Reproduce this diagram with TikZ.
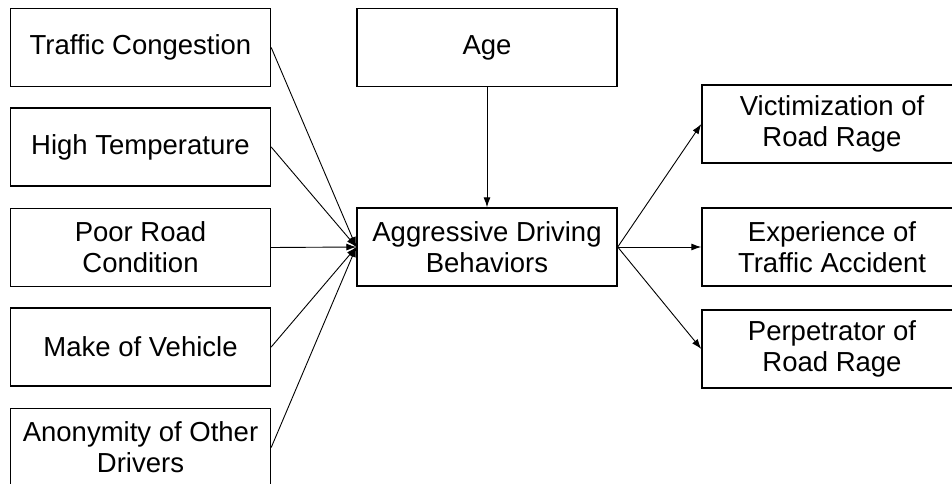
\documentclass[tikz,border=0pt]{standalone}
\usepackage{fontspec}
\setmainfont{Liberation Sans}
\usetikzlibrary{arrows.meta}
\begin{document}
\begin{tikzpicture}[x=1pt,y=-1pt,
  box/.style={draw=black,line width=1.4pt,rectangle,minimum width=260pt,minimum height=78pt,
    inner sep=0pt,align=center,font=\fontsize{27.5}{31}\selectfont,fill=white},
  conn/.style={line width=0.9pt,-{Latex[length=10pt,width=7pt]}}]
\useasboundingbox (0,0) rectangle (952,484);
\clip (0,0) rectangle (952,484);
\fill[white] (0,0) rectangle (952,484);
\node[box] (tc) at (140.5,47.5) {Traffic Congestion};
\node[box] (ht) at (140.5,147) {High Temperature};
\node[box] (prc) at (140.5,247.5) {Poor Road\\Condition};
\node[box] (mv) at (140.5,347) {Make of Vehicle};
\node[box] (an) at (140.5,447.5) {Anonymity of Other\\Drivers};
\node[box] (age) at (487,47.5) {Age};
\node[box] (adb) at (487,247) {Aggressive Driving\\Behaviors};
\node[box] (vic) at (832,124) {Victimization of\\Road Rage};
\node[box] (exp) at (832,247) {Experience of\\Traffic Accident};
\node[box] (per) at (832,349) {Perpetrator of\\Road Rage};
\foreach \n in {tc,ht,prc,mv,an} \draw[conn] (\n.east) -- (adb.west);
\draw[conn] (age.south) -- (adb.north);
\foreach \n in {vic,exp,per} \draw[conn] (adb.east) -- (\n.west);
\end{tikzpicture}
\end{document}
